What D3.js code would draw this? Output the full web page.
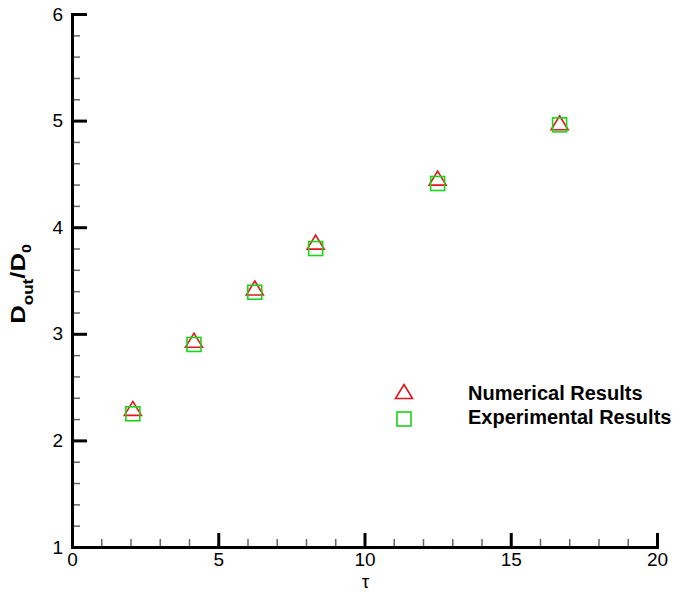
<!DOCTYPE html>
<html>
<head>
<meta charset="utf-8">
<script src="https://cdn.jsdelivr.net/npm/d3@7"></script>
<style>
  html, body { margin: 0; padding: 0; background: #fff; }
  svg { display: block; }
  text { font-family: "Liberation Sans", Arial, sans-serif; }
</style>
</head>
<body>
<svg id="chart" width="676" height="592"></svg>
<script>
// Dimensionless time and diameter ratio results
const tau = [2.08, 4.17, 6.25, 8.33, 12.5, 16.67];
const numerical = [2.30, 2.94, 3.43, 3.86, 4.46, 4.98];
const experimental = [2.25, 2.90, 3.39, 3.80, 4.41, 4.96];

const xTicks = [0, 5, 10, 15, 20];
const yTicks = [1, 2, 3, 4, 5, 6];
const legendLabels = ["Numerical Results", "Experimental Results"];

const RED = "#e4141b";
const GREEN = "#19d419";

const svg = d3.select("#chart");
const x = d3.scaleLinear().domain([0, 20]).range([72, 657]);
const y = d3.scaleLinear().domain([1, 6]).range([547, 14]);

// minor ticks
const xMinor = d3.range(0, 20.001, 1).filter(v => !xTicks.includes(v));
const yMinor = d3.range(1, 6.001, 0.2).map(v => +v.toFixed(1)).filter(v => !yTicks.includes(v));

svg.append("g")
  .attr("transform", `translate(0,${y(1)})`)
  .call(d3.axisBottom(x).tickValues(xMinor).tickSizeInner(-8).tickSizeOuter(0).tickFormat(""))
  .call(g => g.select(".domain").remove())
  .call(g => g.selectAll(".tick line").attr("stroke", "#666").attr("stroke-width", 1.5));

svg.append("g")
  .attr("transform", `translate(${x(0)},0)`)
  .call(d3.axisLeft(y).tickValues(yMinor).tickSizeInner(-8).tickSizeOuter(0).tickFormat(""))
  .call(g => g.select(".domain").remove())
  .call(g => g.selectAll(".tick line").attr("stroke", "#666").attr("stroke-width", 1.5));

// major axes
const xAxis = svg.append("g")
  .attr("transform", `translate(0,${y(1)})`)
  .call(d3.axisBottom(x).tickValues(xTicks).tickSizeInner(-14).tickSizeOuter(0).tickPadding(6).tickFormat(d3.format("d")));

const yAxis = svg.append("g")
  .attr("transform", `translate(${x(0)},0)`)
  .call(d3.axisLeft(y).tickValues(yTicks).tickSizeInner(-15).tickSizeOuter(0).tickPadding(9).tickFormat(d3.format("d")));

[xAxis, yAxis].forEach(g => {
  g.select(".domain").attr("stroke", "#000").attr("stroke-width", 3).attr("stroke-linecap", "square");
  g.selectAll(".tick line").attr("stroke", "#000").attr("stroke-width", 3);
  g.selectAll(".tick text").attr("fill", "#000").style("font-size", "19px").style("font-family", "'Liberation Sans', Arial, sans-serif");
});
yAxis.selectAll(".tick").filter(d => d === 1).select("line").remove();

// axis titles
svg.append("text")
  .attr("x", x(10) + 1).attr("y", 588)
  .attr("text-anchor", "middle")
  .style("font-size", "19px")
  .text("τ");

const yTitle = svg.append("text")
  .attr("transform", `translate(25,284) rotate(-90) scale(1.22,1)`)
  .attr("text-anchor", "middle")
  .style("font-weight", "bold")
  .style("font-size", "21px");
yTitle.append("tspan").text("D");
yTitle.append("tspan").attr("dy", 8).style("font-size", "14px").text("out");
yTitle.append("tspan").attr("dy", -8).text("/D");
yTitle.append("tspan").attr("dy", 6).style("font-size", "13px").text("0");

// markers
const triPath = "M0,-7L8.5,7L-8.5,7Z";
const sq = 14;

svg.append("g").selectAll("path")
  .data(tau.map((t, i) => [t, numerical[i]]))
  .join("path")
  .attr("transform", d => `translate(${x(d[0])},${y(d[1])})`)
  .attr("d", triPath)
  .attr("fill", "none").attr("stroke", RED).attr("stroke-width", 1.6);

svg.append("g").selectAll("rect")
  .data(tau.map((t, i) => [t, experimental[i]]))
  .join("rect")
  .attr("x", d => x(d[0]) - sq / 2).attr("y", d => y(d[1]) - sq / 2)
  .attr("width", sq).attr("height", sq)
  .attr("fill", "none").attr("stroke", GREEN).attr("stroke-width", 1.6);

// legend
const legend = svg.append("g");
legend.append("path")
  .attr("transform", "translate(404,391.5)")
  .attr("d", triPath)
  .attr("fill", "none").attr("stroke", RED).attr("stroke-width", 1.6);
legend.append("rect")
  .attr("x", 404 - sq / 2).attr("y", 419 - sq / 2)
  .attr("width", sq).attr("height", sq)
  .attr("fill", "none").attr("stroke", GREEN).attr("stroke-width", 1.6);
legend.selectAll("text")
  .data(legendLabels)
  .join("text")
  .attr("x", 468)
  .attr("y", (d, i) => 400 + i * 24)
  .style("font-weight", "bold")
  .style("font-size", "20px")
  .text(d => d);
</script>
</body>
</html>
